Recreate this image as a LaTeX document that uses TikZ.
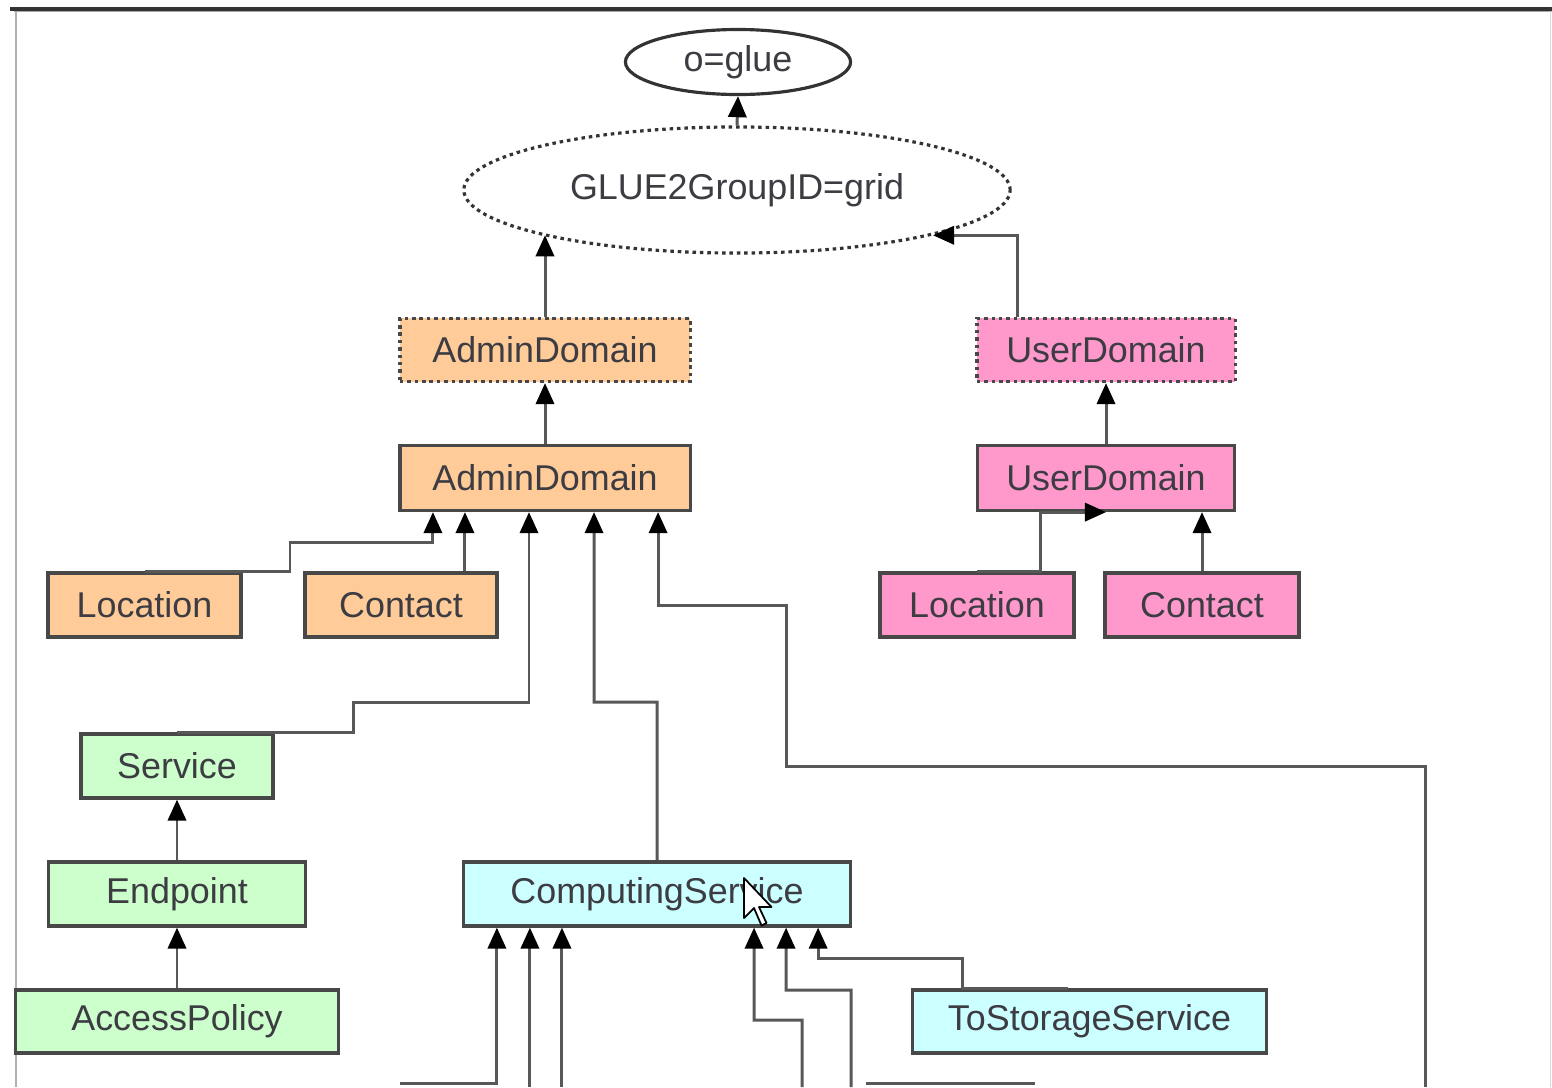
\documentclass[tikz,border=0pt]{standalone}
\usepackage{fontspec}
\setmainfont{Liberation Sans}
\usetikzlibrary{arrows.meta,shapes.geometric}

\definecolor{admincol}{RGB}{255,204,153}
\definecolor{usercol}{RGB}{255,153,204}
\definecolor{servcol}{RGB}{204,255,204}
\definecolor{compcol}{RGB}{204,255,255}
\definecolor{linecol}{RGB}{88,88,88}
\definecolor{bordcol}{RGB}{72,72,72}
\definecolor{txtcol}{RGB}{60,60,66}

\tikzset{
  box/.style={rectangle,draw=bordcol,line width=0.9pt,text=txtcol,inner sep=0pt,
    font=\fontsize{10.2}{12}\selectfont},
  virt/.style={box,dash pattern=on 1pt off 1.1pt},
  link/.style={draw=linecol,line width=0.85pt,-{Triangle[length=6pt,width=5.2pt,color=black]}},
}

\begin{document}
\begin{tikzpicture}[x=0.01cm,y=-0.01cm]
    \useasboundingbox (0,0) rectangle (1552,1087);
    % screenshot frame
    \draw[line width=0.9pt,black!80] (10,9) -- (1552,9);
    \draw[line width=0.4pt,black!35] (14,11.5) -- (1552,11.5);
    \draw[line width=0.7pt,black!30] (16,11) -- (16,1087);
    \draw[line width=0.5pt,black!15] (1550.5,11) -- (1550.5,1087);

    % top of the tree
    \node[box,ellipse,draw=black!80,minimum width=2.25cm,minimum height=0.65cm] (glue) at (738,62) {o=glue};
    \node[virt,ellipse,draw=black!80,minimum width=5.46cm,minimum height=1.26cm] (group) at (737,190) {GLUE2GroupID=grid};

    % admin side
    \node[virt,fill=admincol,minimum width=2.9cm,minimum height=0.63cm] (adv) at (545,350) {AdminDomain};
    \node[box,fill=admincol,minimum width=2.9cm,minimum height=0.65cm] (ad) at (545,478) {AdminDomain};
    \node[box,fill=admincol,minimum width=1.93cm,minimum height=0.64cm] (loc) at (144.5,605) {Location};
    \node[box,fill=admincol,minimum width=1.92cm,minimum height=0.64cm] (con) at (401,605) {Contact};

    % user side
    \node[virt,fill=usercol,minimum width=2.58cm,minimum height=0.63cm] (udv) at (1106,350) {UserDomain};
    \node[box,fill=usercol,minimum width=2.57cm,minimum height=0.65cm] (ud) at (1106,478) {UserDomain};
    \node[box,fill=usercol,minimum width=1.94cm,minimum height=0.64cm] (uloc) at (977,605) {Location};
    \node[box,fill=usercol,minimum width=1.94cm,minimum height=0.64cm] (ucon) at (1202,605) {Contact};

    % services
    \node[box,fill=servcol,minimum width=1.92cm,minimum height=0.64cm] (serv) at (177,766) {Service};
    \node[box,fill=servcol,minimum width=2.57cm,minimum height=0.64cm] (endp) at (177,894) {Endpoint};
    \node[box,fill=servcol,minimum width=3.22cm,minimum height=0.63cm] (acc) at (177,1021.5) {AccessPolicy};
    \node[box,fill=compcol,minimum width=3.86cm,minimum height=0.64cm] (comp) at (657,894) {ComputingService};
    \node[box,fill=compcol,minimum width=3.53cm,minimum height=0.63cm] (tostor) at (1089.5,1021.5) {ToStorageService};

    % ports
    \coordinate (ad-in1) at ([xshift=-1.12cm]ad.south);
    \coordinate (ad-in2) at ([xshift=-0.80cm]ad.south);
    \coordinate (ad-in3) at ([xshift=-0.16cm]ad.south);
    \coordinate (ad-in4) at ([xshift=0.49cm]ad.south);
    \coordinate (ad-in5) at ([xshift=1.13cm]ad.south);
    \foreach \n/\dx in {1/-1.60,2/-1.27,3/-0.95,4/0.97,5/1.29,6/1.61}
      \coordinate (comp-in\n) at ([xshift=\dx cm]comp.south);
    \coordinate (far) at (1425,1087);
    \coordinate (cut1) at (400,1083);
    \coordinate (cut2) at (802,1087);
    \coordinate (cut3) at (851,1087);
    \coordinate (cut4) at (866,1083);
    \coordinate (cut5) at (1035,1083);

    % links
    \draw[link] (group.north) -- (glue.south);
    \draw[link] (adv.north) -- (adv.north |- group.193);
    \draw[link] ([xshift=-0.88cm]udv.north) |- (group.-13);
    \draw[link] (ad.north) -- (adv.south);
    \draw[link] (ud.north) -- (udv.south);
    \draw[link] (loc.north) -| (290,542) -| (ad-in1);
    \draw[link] (ad-in2 |- con.north) -- (ad-in2);
    \draw[link] (serv.north) -| (353,702) -| (ad-in3);
    \draw[link] (comp.north) |- (594,702) -- (ad-in4);
    \draw[link] (far) |- (786,766) -- (786,605) -| (ad-in5);
    \draw[link] (uloc.north) -| ([xshift=-0.65cm]ud.south) -- (ud.south);
    \draw[link] (ucon.north) -- (ucon.north |- ud.south);
    \draw[link] (endp.north) -- (serv.south);
    \draw[link] (acc.north) -- (endp.south);
    \draw[link] (cut1) -| (comp-in1);
    \draw[link] (comp-in2 |- far) -- (comp-in2);
    \draw[link] (comp-in3 |- far) -- (comp-in3);
    \draw[link] (cut2) |- (754,1020) -- (comp-in4);
    \draw[link] (cut3) |- (786,990) -- (comp-in5);
    \draw[link] ([xshift=-0.22cm]tostor.north) -| (962,958) -| (comp-in6);
    \draw[linecol,line width=0.85pt] (cut4) -- (cut5);

    % mouse pointer
    \draw[black,fill=white,line width=0.5pt,line join=round] (744,878) -- ++(0,40) -- ++(10,-10)
      -- ++(7.5,17.5) -- ++(5,-2.5) -- ++(-7.5,-16) -- ++(12.5,0) -- cycle;
\end{tikzpicture}
\end{document}
